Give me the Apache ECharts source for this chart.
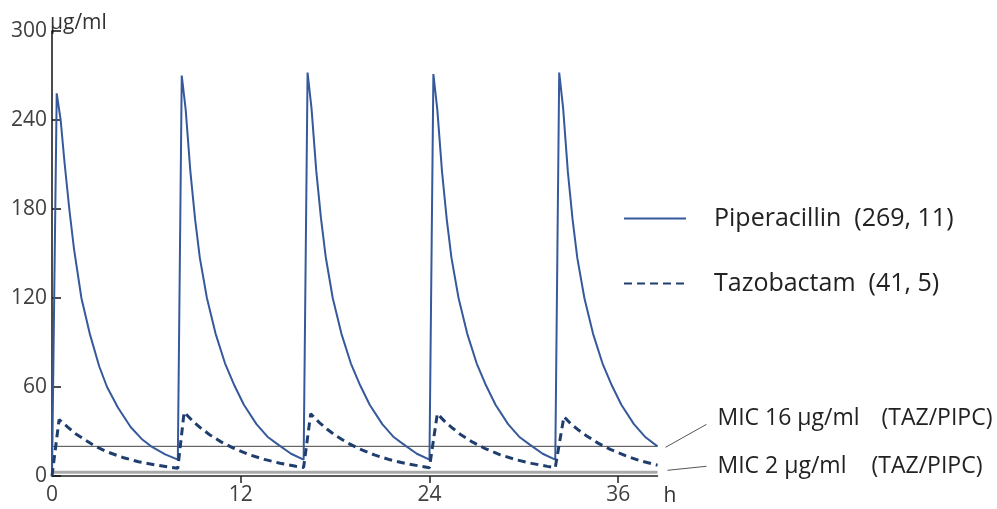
<!DOCTYPE html>
<html>
<head>
<meta charset="utf-8">
<script src="https://cdn.jsdelivr.net/npm/echarts@6/dist/echarts.min.js"></script>
<style>
html,body{margin:0;padding:0;background:#fff;}
#chart{width:997px;height:509px;}
</style>
</head>
<body>
<div id="chart"></div>
<script>
// piperacillin, 5 doses every 8 h
const pipHours = [
  0, 0.3, 0.55, 0.8, 1.1, 1.4, 1.87, 2.4, 3.0, 3.5, 4.2, 5.0, 5.7, 6.3, 7.2, 8.0,
  8.25, 8.5, 8.8, 9.1, 9.4, 9.85, 10.4, 11.0, 11.6, 12.2, 13.0, 13.7, 14.4, 15.2, 16.0,
  16.25, 16.5, 16.8, 17.1, 17.4, 17.85, 18.4, 19.0, 19.6, 20.2, 21.0, 21.7, 22.4, 23.2, 24.0,
  24.25, 24.5, 24.8, 25.1, 25.4, 25.85, 26.4, 27.0, 27.6, 28.2, 29.0, 29.7, 30.4, 31.2, 32.0,
  32.25, 32.5, 32.8, 33.1, 33.4, 33.85, 34.4, 35.0, 35.6, 36.2, 37.0, 37.7, 38.5
]
const pipValues = [
  0, 258, 240, 211, 180, 153, 120, 96, 74, 60, 46, 33, 25, 20, 14.6, 11,
  270, 247, 205, 173, 147, 120, 96, 76, 61, 48, 35, 26.5, 21, 15, 11,
  272, 248, 206, 174, 148, 120, 96, 76, 61, 48, 35, 26.5, 21, 15, 11,
  271, 247, 205, 173, 147, 120, 96, 76, 61, 48, 35, 26.5, 21, 15, 11,
  272, 248, 205, 173, 147, 120, 96, 76, 61, 48, 35, 26.5, 20
]
// tazobactam
const tazHours = [
  0, 0.45, 1.0, 1.5, 2.0, 2.75, 3.5, 4.5, 5.5, 6.5, 7.5, 8.0,
  8.4, 9.0, 9.5, 10.0, 10.75, 11.5, 12.5, 13.5, 14.5, 15.5, 16.0,
  16.45, 17.0, 17.5, 18.0, 18.75, 19.5, 20.5, 21.5, 22.5, 23.5, 24.0,
  24.5, 25.0, 25.5, 26.0, 26.75, 27.5, 28.5, 29.5, 30.5, 31.5, 32.0,
  32.55, 33.0, 33.5, 34.0, 34.75, 35.5, 36.5, 37.5, 38.5
]
const tazValues = [
  0, 38, 33, 28.5, 25, 20, 16.3, 12.5, 9.6, 7.6, 5.9, 5.2,
  43, 36.5, 32, 28, 23, 19, 14.5, 11.2, 8.6, 6.6, 5.8,
  42, 36, 31.5, 27.5, 22.5, 18.5, 14.2, 10.9, 8.4, 6.5, 5.6,
  42, 36.5, 32, 27.8, 22.8, 18.7, 14.3, 11, 8.5, 6.5, 5.7,
  40, 35, 30.8, 27, 22, 18, 13.5, 10, 7.3
]
const legendNames = ['Piperacillin  (269, 11)', 'Tazobactam  (41, 5)']
const micLevels = [20, 2.5]   // where the two MIC lines sit on the drawing
const xLabelValues = [0, 12, 24, 36]
const xMax = 38.5

const chart = echarts.init(document.getElementById('chart'))
const font = '"Open Sans", sans-serif'
const zip = (a, b) => a.map((v, i) => [v, b[i]])

chart.setOption({
  animation: false,
  grid: {left: 52, right: 339.5, top: 31, bottom: 33, containLabel: false, outerBoundsMode: 'none'},
  legend: {
    data: legendNames,
    orient: 'vertical',
    left: 623, top: 206,
    padding: 0,
    itemWidth: 62, itemHeight: 14, itemGap: 40,
    itemStyle: {opacity: 0},
    textStyle: {fontFamily: font, fontSize: 25, color: '#222', padding: [0, 0, 0, 23]}
  },
  xAxis: {
    type: 'value', min: 0, max: xMax,
    name: 'h', nameLocation: 'end', nameGap: 6, nameMoveOverlap: false,
    nameTextStyle: {fontFamily: font, fontSize: 21, color: '#333', verticalAlign: 'top', padding: [10, 0, 0, 0]},
    axisLine: {lineStyle: {color: '#222', width: 1.5}},
    axisTick: {show: true, length: 7, customValues: [12, 24, 36], lineStyle: {color: '#222', width: 1.5}},
    axisLabel: {customValues: xLabelValues, fontFamily: font, fontSize: 21, color: '#404040', margin: 9},
    splitLine: {show: false}
  },
  yAxis: {
    type: 'value', min: 0, max: 300, interval: 60,
    name: 'µg/ml', nameLocation: 'end', nameGap: 18, nameMoveOverlap: false,
    nameTextStyle: {fontFamily: font, fontSize: 21, color: '#333', align: 'left', verticalAlign: 'top', padding: [0, 0, 0, -2]},
    axisLine: {show: true, lineStyle: {color: '#111', width: 1.5}},
    axisTick: {show: true, inside: true, length: 9, lineStyle: {color: '#111', width: 1.5}},
    axisLabel: {fontFamily: font, fontSize: 21, color: '#404040', margin: 5},
    splitLine: {show: false}
  },
  series: [
    {
      type: 'line', silent: true, symbol: 'none',
      data: [[0, micLevels[0]], [xMax, micLevels[0]]],
      lineStyle: {color: '#444', width: 1}
    },
    {
      type: 'line', silent: true, symbol: 'none',
      data: [[0, micLevels[1]], [xMax, micLevels[1]]],
      lineStyle: {color: '#aaa', width: 3}
    },
    {
      name: legendNames[0], type: 'line', symbol: 'none',
      data: zip(pipHours, pipValues),
      lineStyle: {color: '#36599c', width: 2},
      itemStyle: {color: '#36599c'}
    },
    {
      name: legendNames[1], type: 'line', symbol: 'none',
      data: zip(tazHours, tazValues),
      lineStyle: {color: '#1f3e6e', width: 3, type: [8, 5]},
      itemStyle: {color: '#1f3e6e'}
    }
  ]
})

// MIC labels + leader lines, placed from the line ends
const p16 = chart.convertToPixel({gridIndex: 0}, [xMax, micLevels[0]])
const p2 = chart.convertToPixel({gridIndex: 0}, [xMax, micLevels[1]])
const txt = (s, x, y) => ({type: 'text', x: x, y: y, style: {text: s, fontFamily: font, fontSize: 23, fill: '#222', verticalAlign: 'middle'}})
chart.setOption({
  graphic: [
    {type: 'line', shape: {x1: p16[0] + 8, y1: p16[1] + 1, x2: p16[0] + 49, y2: p16[1] - 22}, style: {stroke: '#555', lineWidth: 1}},
    {type: 'line', shape: {x1: p2[0] + 10, y1: p2[1] - 2, x2: p2[0] + 49, y2: p2[1] - 6}, style: {stroke: '#555', lineWidth: 1}},
    txt('MIC 16 µg/ml', p16[0] + 60, p16[1] - 28),
    txt('(TAZ/PIPC)', p16[0] + 224, p16[1] - 28),
    txt('MIC 2 µg/ml', p2[0] + 60, p2[1] - 6),
    txt('(TAZ/PIPC)', p2[0] + 214, p2[1] - 6)
  ]
})
</script>
</body>
</html>
